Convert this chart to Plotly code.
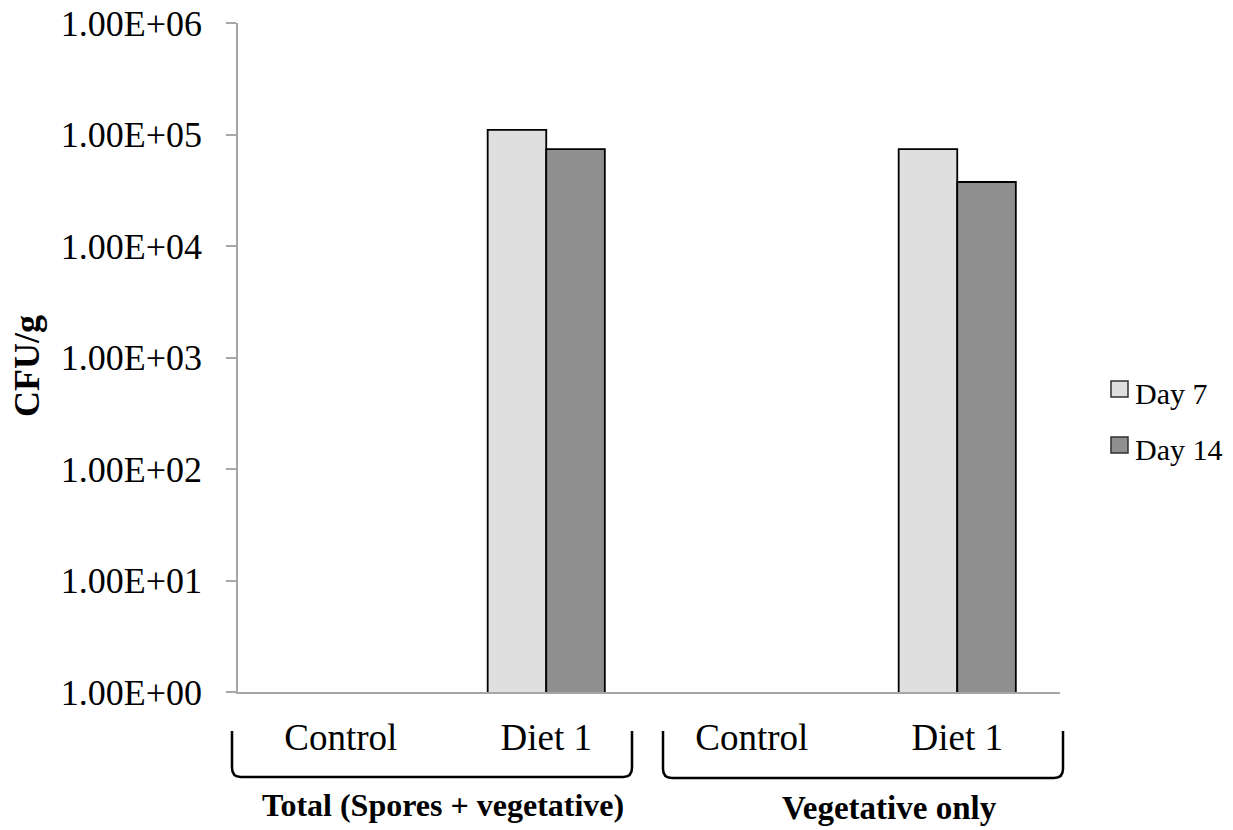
import plotly.graph_objects as go

# Data
categories = ["Control", "Diet 1", "Control", "Diet 1"]
groups = ["Total (Spores + vegetative)", "Vegetative only"]
series_names = ["Day 7", "Day 14"]
series_colors = ["#DFDFDF", "#8F8F8F"]
day7 = [None, 1.1e5, None, 7.4e4]
day14 = [None, 7.4e4, None, 3.75e4]
y_tickvals = [1e0, 1e1, 1e2, 1e3, 1e4, 1e5, 1e6]
y_ticktext = ["1.00E+00", "1.00E+01", "1.00E+02", "1.00E+03",
              "1.00E+04", "1.00E+05", "1.00E+06"]

FONT = "Liberation Serif, Times New Roman, serif"
x_pos = list(range(len(categories)))

fig = go.Figure()
for name, vals, col in zip(series_names, [day7, day14], series_colors):
    fig.add_trace(go.Bar(
        x=x_pos, y=vals, name=name, showlegend=False,
        marker=dict(color=col, line=dict(color="#000000", width=1.8)),
    ))

# Plot-area geometry in pixels (used for brackets, legend and group labels)
W, H = 1233, 830
L, R, T, B = 238, 1060, 23, 692


def px_x(p):
    return (p - L) / (R - L)


def px_y(p):
    return (B - p) / (B - T)


def bracket(x0, x1, ytop, ybot, r=9):
    return (f"M {px_x(x0)},{px_y(ytop)} "
            f"L {px_x(x0)},{px_y(ybot - r)} "
            f"Q {px_x(x0)},{px_y(ybot)} {px_x(x0 + r)},{px_y(ybot)} "
            f"L {px_x(x1 - r)},{px_y(ybot)} "
            f"Q {px_x(x1)},{px_y(ybot)} {px_x(x1)},{px_y(ybot - r)} "
            f"L {px_x(x1)},{px_y(ytop)}")


shapes = [
    dict(type="path", xref="paper", yref="paper",
         path=bracket(232, 632, 731, 777),
         line=dict(color="#000000", width=2.5)),
    dict(type="path", xref="paper", yref="paper",
         path=bracket(663, 1063, 731, 778),
         line=dict(color="#000000", width=2.5)),
]

annotations = [
    dict(text="<b>%s</b>" % groups[0], xref="paper", yref="paper",
         x=px_x(443), y=px_y(805), showarrow=False,
         font=dict(family=FONT, size=32, color="#000000"),
         xanchor="center", yanchor="middle"),
    dict(text="<b>%s</b>" % groups[1], xref="paper", yref="paper",
         x=px_x(889), y=px_y(808), showarrow=False,
         font=dict(family=FONT, size=33, color="#000000"),
         xanchor="center", yanchor="middle"),
    dict(text="<b>CFU/g</b>", xref="paper", yref="paper",
         x=px_x(27), y=px_y(366), showarrow=False, textangle=-90,
         font=dict(family=FONT, size=36, color="#000000"),
         xanchor="center", yanchor="middle"),
]

# Legend: square swatch plus label for each series
legend_rows = [389, 445]
for name, col, yc in zip(series_names, series_colors, legend_rows):
    shapes.append(dict(
        type="rect", xref="paper", yref="paper",
        x0=px_x(1111), x1=px_x(1128), y0=px_y(yc + 8), y1=px_y(yc - 8),
        fillcolor=col, line=dict(color="#303030", width=1.5),
    ))
    annotations.append(dict(
        text=name, xref="paper", yref="paper",
        x=px_x(1133), y=px_y(yc + 4), showarrow=False,
        xanchor="left", yanchor="middle",
        font=dict(family=FONT, size=30, color="#000000"),
    ))

fig.update_layout(
    width=W, height=H,
    margin=dict(l=L, r=W - R, t=T, b=H - B, pad=0, autoexpand=False),
    paper_bgcolor="white", plot_bgcolor="white",
    barmode="group", bargap=0.43, bargroupgap=0,
    font=dict(family=FONT, size=36, color="#000000"),
    showlegend=False,
    xaxis=dict(
        range=[-0.5, 3.5], tickmode="array", tickvals=x_pos,
        ticktext=categories, showline=True, linecolor="#A6A6A6",
        linewidth=1.5, ticks="", showgrid=False, zeroline=False,
        automargin=False, ticklabelstandoff=12,
        tickfont=dict(family=FONT, size=37, color="#000000"),
    ),
    yaxis=dict(
        type="log", range=[0, 6], tickmode="array",
        tickvals=y_tickvals, ticktext=y_ticktext,
        showline=True, linecolor="#A6A6A6", linewidth=1.5,
        ticks="outside", ticklen=10, tickwidth=1.5, tickcolor="#A6A6A6",
        showgrid=False, zeroline=False, ticklabelstandoff=17,
        automargin=False,
        tickfont=dict(family=FONT, size=36, color="#000000"),
    ),
    shapes=shapes,
    annotations=annotations,
)

fig.write_html("out.html")
